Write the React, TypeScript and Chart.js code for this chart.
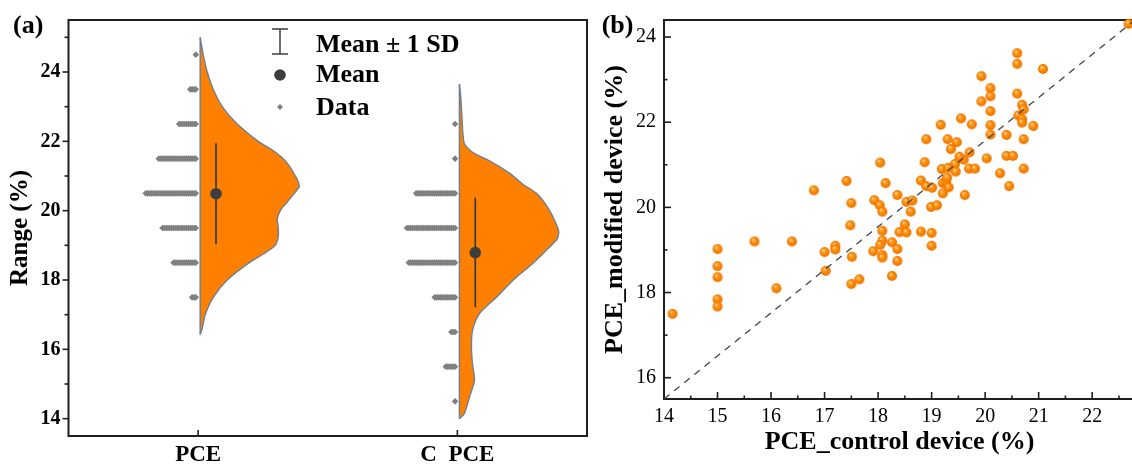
import React, { useEffect, useRef } from 'react';
import { Chart, registerables } from 'chart.js';

Chart.register(...registerables);

const FONT = "'Liberation Serif', 'Times New Roman', serif";
Chart.defaults.font.family = FONT;
Chart.defaults.color = '#000';

// ---------------- Data ----------------
// Panel (b): each device pair, control PCE (x) vs modified PCE (y)
const controlPCE = [
  14.16, 15.0, 15.0, 15.0, 15.0, 15.0, 15.69, 16.1, 16.39, 16.8,
  17.0, 17.02, 17.2, 17.2, 17.41, 17.5, 17.48, 17.51, 17.5, 17.65,
  17.91, 17.93, 18.03, 18.04, 18.14, 18.08, 18.36, 18.53, 18.64, 18.61,
  18.08, 18.5, 18.4, 18.53, 18.08, 18.04, 18.26, 18.36, 18.08, 18.08,
  18.36, 18.26, 18.8, 18.8, 19.0, 19.0, 18.99, 19.1, 18.9, 19.01,
  19.19, 19.31, 19.44, 19.45, 19.6, 19.7, 19.81, 19.21, 19.27, 19.32,
  19.29, 19.21, 19.62, 20.03, 19.93, 20.1, 20.1, 19.93, 20.1, 19.55,
  19.17, 19.75, 20.1, 20.1, 18.9, 19.3, 19.47, 19.36, 19.71, 19.52,
  18.87, 20.6, 20.6, 21.08, 20.6, 20.69, 20.72, 20.62, 20.69, 20.69,
  20.9, 20.4, 20.72, 20.4, 20.52, 20.28, 20.72, 20.45, 22.68,
];
const modifiedPCE = [
  17.5, 19.02, 18.62, 18.36, 17.84, 17.67, 19.2, 18.1, 19.2, 20.4,
  18.95, 18.51, 19.1, 19.01, 20.62, 20.1, 19.58, 18.84, 18.2, 18.31,
  18.97, 20.17, 20.05, 21.05, 20.57, 19.9, 20.29, 20.13, 20.16, 19.9,
  19.45, 19.6, 19.42, 19.41, 19.22, 19.12, 19.18, 19.02, 18.88, 18.82,
  18.74, 18.39, 20.63, 19.43, 19.4, 19.1, 20.01, 20.05, 20.5, 20.46,
  20.9, 20.93, 21.02, 20.84, 21.12, 20.91, 20.91, 20.57, 20.61, 20.47,
  20.7, 20.33, 20.29, 21.15, 23.08, 22.8, 22.61, 22.49, 22.26, 22.09,
  21.94, 21.95, 21.93, 21.71, 21.6, 21.6, 21.53, 21.37, 21.29, 21.19,
  21.06, 23.62, 23.37, 23.25, 22.67, 22.41, 22.3, 22.16, 22.07, 21.99,
  21.91, 21.7, 21.6, 21.21, 21.21, 20.8, 20.91, 20.5, 24.31,
];

// Panel (a): categories and half-violin outlines (relative density)
const categories = ['PCE', 'C  PCE'];
const violinPceY = [16.43, 16.6, 17.0, 17.5, 18.0, 18.5, 18.75, 19.0, 19.25, 19.5, 19.75, 20.0, 20.25, 20.5, 20.7, 20.9, 21.0, 21.25, 21.5, 21.75, 22.0, 22.5, 23.0, 23.5, 24.0, 24.5, 25.0];
const violinPceW = [0, 0.02, 0.05, 0.13, 0.27, 0.49, 0.63, 0.75, 0.78, 0.78, 0.77, 0.8, 0.87, 0.94, 0.99, 0.97, 0.95, 0.9, 0.83, 0.72, 0.58, 0.37, 0.22, 0.13, 0.07, 0.03, 0];
const violinCpceY = [14.0, 14.15, 14.62, 15.1, 15.58, 16.06, 16.54, 17.03, 17.5, 17.98, 18.47, 18.95, 19.2, 19.43, 19.9, 20.19, 20.5, 20.77, 21.06, 21.25, 21.44, 21.6, 21.73, 21.93, 22.2, 22.7, 23.2, 23.65];
const violinCpceW = [0, 0.05, 0.1, 0.15, 0.13, 0.12, 0.13, 0.2, 0.37, 0.53, 0.73, 0.9, 0.98, 0.99, 0.92, 0.86, 0.77, 0.63, 0.51, 0.41, 0.3, 0.18, 0.11, 0.05, 0.035, 0.025, 0.015, 0];

// Tick values
const yTicksA = [14, 16, 18, 20, 22, 24];
const yMinorA = [15, 17, 19, 21, 23, 25];
const xTicksB = [14, 15, 16, 17, 18, 19, 20, 21, 22];
const xMinorB = [14.5, 15.5, 16.5, 17.5, 18.5, 19.5, 20.5, 21.5, 22.5];
const yTicksB = [16, 18, 20, 22, 24];
const yMinorB = [17, 19, 21, 23];
const legendLabels = ['Mean \u00b1 1 SD', 'Mean', 'Data'];

// Axis ranges
const Y_MIN_A = 13.5, Y_MAX_A = 25.5;
const X_MIN_B = 14, X_MAX_B = 22.8, Y_MIN_B = 15.5, Y_MAX_B = 24.4;

// ---------------- Layout constants ----------------
const CAT_X = [0.5, 1.5];
const VIOLIN_OFFSET = 0.008;
const VIOLIN_HALF = 0.386;
const DOT_START = 0.009;
const DOT_STEP = 0.00714;
const MEAN_OFFSET = 0.069;
const ORANGE = '#FF8000';
const OUTLINE = '#6e7f90';
const DARK = '#3d3d3d';

function mean(a: number[]) { return a.reduce((s, v) => s + v, 0) / a.length; }
function sd(a: number[]) {
  const m = mean(a);
  return Math.sqrt(a.reduce((s, v) => s + (v - m) * (v - m), 0) / (a.length - 1));
}
function binRows(values: number[], cat: number) {
  const pts: { x: number; y: number }[] = [];
  const lo = Math.floor(Math.min(...values));
  const hi = Math.floor(Math.max(...values));
  for (let k = lo; k <= hi; k++) {
    const n = values.filter((v) => v >= k && v < k + 1).length;
    for (let i = 0; i < n; i++) pts.push({ x: cat - DOT_START - i * DOT_STEP, y: k + 0.5 });
  }
  return pts;
}

type TickSpec = { axis: 'x' | 'y'; values: number[]; len: number; dir: number };

function makeFrame(ticks: TickSpec[], after: (ctx: CanvasRenderingContext2D) => void) {
  return {
    id: 'frame',
    beforeDatasetsDraw(chart: any) {
      const { ctx, chartArea: a, scales } = chart;
      ctx.save();
      ctx.strokeStyle = '#1e1e1e';
      ctx.lineWidth = 2;
      ctx.strokeRect(a.left, a.top, a.right - a.left, a.bottom - a.top);
      ctx.lineWidth = 1.6;
      for (const t of ticks) {
        const s = scales[t.axis];
        for (const v of t.values) {
          const p = s.getPixelForValue(v);
          ctx.beginPath();
          if (t.axis === 'x') {
            ctx.moveTo(p, a.bottom);
            ctx.lineTo(p, a.bottom - t.len * t.dir);
          } else {
            ctx.moveTo(a.left, p);
            ctx.lineTo(a.left + t.len * t.dir, p);
          }
          ctx.stroke();
        }
      }
      ctx.restore();
    },
    afterDraw(chart: any) {
      const ctx = chart.ctx as CanvasRenderingContext2D;
      ctx.save();
      after(ctx);
      ctx.restore();
    },
  };
}

function makeBall(r: number) {
  const c = document.createElement('canvas');
  const s = Math.ceil(r * 2 + 2);
  c.width = s;
  c.height = s;
  const g = c.getContext('2d')!;
  const cx = s / 2, cy = s / 2;
  const grad = g.createRadialGradient(cx - r * 0.3, cy - r * 0.4, 0, cx, cy, r);
  grad.addColorStop(0, '#fff6e6');
  grad.addColorStop(0.22, '#ffb04a');
  grad.addColorStop(0.55, '#ff8a00');
  grad.addColorStop(1, '#e97000');
  g.fillStyle = grad;
  g.beginPath();
  g.arc(cx, cy, r, 0, Math.PI * 2);
  g.fill();
  return c;
}

function configA(): any {
  const groups = [
    { cat: CAT_X[0], values: modifiedPCE, vy: violinPceY, vw: violinPceW },
    { cat: CAT_X[1], values: controlPCE, vy: violinCpceY, vw: violinCpceW },
  ];
  const datasets: any[] = [];
  groups.forEach((g) => {
    const base = g.cat + VIOLIN_OFFSET;
    datasets.push({
      data: g.vy.map((y, i) => ({ x: base + g.vw[i] * VIOLIN_HALF, y })),
      showLine: true, fill: 'shape', backgroundColor: ORANGE, borderColor: OUTLINE,
      borderWidth: 1.4, pointRadius: 0, tension: 0.25, order: 5,
    });
    datasets.push({
      data: [{ x: base, y: g.vy[0] }, { x: base, y: g.vy[g.vy.length - 1] }],
      showLine: true, borderColor: OUTLINE, borderWidth: 1.5, pointRadius: 0, order: 4,
    });
    datasets.push({
      data: binRows(g.values, g.cat), pointStyle: 'rectRot', pointRadius: 3.3,
      backgroundColor: '#808080', pointBorderWidth: 0, borderWidth: 0, order: 3,
    });
    const m = mean(g.values), s = sd(g.values);
    datasets.push({
      data: [{ x: g.cat + MEAN_OFFSET, y: m - s }, { x: g.cat + MEAN_OFFSET, y: m + s }],
      showLine: true, borderColor: DARK, borderWidth: 1.8, pointRadius: 0, order: 2,
    });
    datasets.push({
      data: [{ x: g.cat + MEAN_OFFSET, y: m }], pointRadius: 5.8, backgroundColor: DARK,
      pointBorderWidth: 0, order: 1,
    });
  });

  const frame = makeFrame(
    [
      { axis: 'x', values: CAT_X, len: 6, dir: 1 },
      { axis: 'y', values: yTicksA, len: 6, dir: -1 },
      { axis: 'y', values: yMinorA, len: 4, dir: -1 },
    ],
    (ctx) => {
      ctx.fillStyle = '#000';
      ctx.font = `bold 26px ${FONT}`;
      ctx.textBaseline = 'alphabetic';
      ctx.fillText('(a)', 13, 33);
      // legend
      const ix = 280;
      ctx.strokeStyle = DARK;
      ctx.lineWidth = 1.5;
      ctx.beginPath();
      ctx.moveTo(ix, 29); ctx.lineTo(ix, 54);
      ctx.moveTo(ix - 8, 29); ctx.lineTo(ix + 8, 29);
      ctx.moveTo(ix - 8, 54); ctx.lineTo(ix + 8, 54);
      ctx.stroke();
      ctx.fillStyle = DARK;
      ctx.beginPath();
      ctx.arc(ix, 75, 5.8, 0, Math.PI * 2);
      ctx.fill();
      ctx.fillStyle = '#808080';
      ctx.beginPath();
      ctx.moveTo(ix - 3, 107); ctx.lineTo(ix, 104); ctx.lineTo(ix + 3, 107); ctx.lineTo(ix, 110);
      ctx.closePath();
      ctx.fill();
      ctx.fillStyle = '#000';
      ctx.font = `bold 26px ${FONT}`;
      ctx.fillText(legendLabels[0], 316, 51.5);
      ctx.fillText(legendLabels[1], 316, 82);
      ctx.fillText(legendLabels[2], 316, 115);
    }
  );

  return {
    type: 'scatter',
    data: { datasets },
    options: {
      animation: false,
      responsive: false,
      events: [],
      layout: { padding: { left: 0, top: 19, right: 13, bottom: 0 } },
      plugins: { legend: { display: false }, tooltip: { enabled: false } },
      scales: {
        x: {
          type: 'linear', min: 0, max: 2,
          grid: { display: false, drawTicks: false }, border: { display: false },
          afterBuildTicks: (s: any) => { s.ticks = CAT_X.map((v) => ({ value: v })); },
          afterFit: (s: any) => { s.height = 29; },
          ticks: {
            callback: (_v: any, i: number) => categories[i],
            font: { family: FONT, size: 23, weight: 'bold' }, color: '#000',
            padding: 5, maxRotation: 0, autoSkip: false,
          },
        },
        y: {
          type: 'linear', min: Y_MIN_A, max: Y_MAX_A,
          grid: { display: false, drawTicks: false }, border: { display: false },
          afterBuildTicks: (s: any) => { s.ticks = yTicksA.map((v) => ({ value: v })); },
          afterFit: (s: any) => { s.width = 68.5; },
          ticks: { font: { family: FONT, size: 20, weight: 'bold' }, color: '#000', padding: 8, autoSkip: false },
          title: {
            display: true, text: 'Range (%)', color: '#000',
            font: { family: FONT, size: 25, weight: 'bold' }, padding: { top: 6, bottom: 0 },
          },
        },
      },
    },
    plugins: [frame],
  };
}

function configB(): any {
  const ball = makeBall(5);
  const frame = makeFrame(
    [
      { axis: 'x', values: xTicksB, len: 7, dir: 1 },
      { axis: 'x', values: xMinorB, len: 3.5, dir: 1 },
      { axis: 'y', values: yTicksB, len: 7, dir: 1 },
      { axis: 'y', values: yMinorB, len: 3.5, dir: 1 },
    ],
    (ctx) => {
      ctx.fillStyle = '#000';
      ctx.font = `bold 26px ${FONT}`;
      ctx.textBaseline = 'alphabetic';
      ctx.fillText('(b)', 1.7, 33);
    }
  );
  return {
    type: 'scatter',
    data: {
      datasets: [
        {
          data: [{ x: X_MIN_B, y: Y_MIN_B }, { x: X_MAX_B, y: Y_MAX_B }],
          showLine: true, borderColor: '#444', borderWidth: 1.3, borderDash: [7, 6],
          pointRadius: 0, order: 0,
        },
        {
          data: controlPCE.map((x, i) => ({ x, y: modifiedPCE[i] })),
          pointStyle: ball, pointRadius: 5, order: 1, clip: false,
        },
      ],
    },
    options: {
      animation: false,
      responsive: false,
      events: [],
      layout: { padding: { left: 0, top: 17, right: 10, bottom: 0 } },
      plugins: { legend: { display: false }, tooltip: { enabled: false } },
      scales: {
        x: {
          type: 'linear', min: X_MIN_B, max: X_MAX_B,
          grid: { display: false, drawTicks: false }, border: { display: false },
          afterBuildTicks: (s: any) => { s.ticks = xTicksB.map((v) => ({ value: v })); },
          afterFit: (s: any) => { s.height = 66; },
          ticks: { font: { family: FONT, size: 20 }, color: '#000', padding: 6, maxRotation: 0, autoSkip: false },
          title: {
            display: true, text: 'PCE_control device (%)', color: '#000',
            font: { family: FONT, size: 26, weight: 'bold' }, padding: { top: 0, bottom: 7 },
          },
        },
        y: {
          type: 'linear', min: Y_MIN_B, max: Y_MAX_B,
          grid: { display: false, drawTicks: false }, border: { display: false },
          afterBuildTicks: (s: any) => { s.ticks = yTicksB.map((v) => ({ value: v })); },
          afterFit: (s: any) => { s.width = 64; },
          ticks: { font: { family: FONT, size: 20 }, color: '#000', padding: 8, autoSkip: false },
          title: {
            display: true, text: 'PCE_modified device (%)', color: '#000',
            font: { family: FONT, size: 26, weight: 'bold' }, padding: { top: 0, bottom: 0 },
          },
        },
      },
    },
    plugins: [frame],
  };
}

export default function App() {
  const refA = useRef<HTMLCanvasElement>(null);
  const refB = useRef<HTMLCanvasElement>(null);
  useEffect(() => {
    const a = new Chart(refA.current!, configA());
    const b = new Chart(refB.current!, configB());
    return () => {
      a.destroy();
      b.destroy();
    };
  }, []);
  return (
    <div style={{ position: 'fixed', left: 0, top: 0, width: 1132, height: 465, overflow: 'hidden', background: '#fff' }}>
      <canvas ref={refA} width={600} height={465} style={{ position: 'absolute', left: 0, top: 0, width: 600, height: 465 }} />
      <canvas ref={refB} width={545} height={465} style={{ position: 'absolute', left: 600, top: 0, width: 545, height: 465 }} />
    </div>
  );
}
